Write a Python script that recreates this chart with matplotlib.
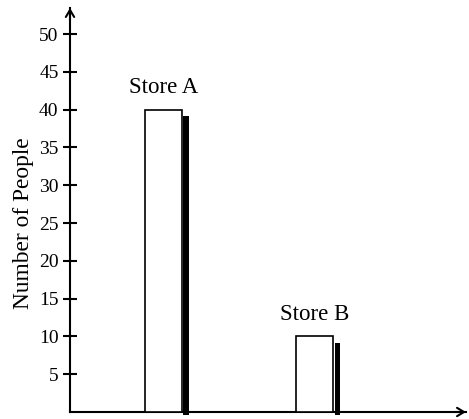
import matplotlib
matplotlib.use("Agg")
import matplotlib.pyplot as plt
import numpy as np

categories = ["Store A", "Store B"]
values = [40, 10]
shadow_values = [39.15, 9.1]
yticks = [5, 10, 15, 20, 25, 30, 35, 40, 45, 50]
ylabel = "Number of People"

plt.rcParams['font.family'] = ['Liberation Serif', 'DejaVu Serif']

W, H = 469, 419
fig = plt.figure(figsize=(W / 100, H / 100), dpi=100)
x0, x1 = 70, 466
y0, y1 = 412, 8
ax = fig.add_axes([x0 / W, (H - y0) / H, (x1 - x0) / W, (y0 - y1) / H])

px_per_unit = 7.56
ax.set_ylim(0, (y0 - y1) / px_per_unit)
ax.set_xlim(-0.617, 2.0)

pos = np.arange(len(categories))
bw = 0.241
ax.bar(pos, values, width=bw, facecolor='white', edgecolor='black',
       linewidth=1.2, zorder=3)
sw = 0.037
gap = 0.011
bottom = -0.4
ax.bar(pos + bw / 2 + gap + sw / 2, np.array(shadow_values) - bottom,
       bottom=bottom, width=sw, color='black', linewidth=0, zorder=3,
       clip_on=False)

for p, v, c in zip(pos, values, categories):
    ax.text(p, v + 2.2, c, ha='center', va='baseline', fontsize=16.5)

for s in ['top', 'right']:
    ax.spines[s].set_visible(False)
for s in ['left', 'bottom']:
    ax.spines[s].set_linewidth(1.5)

ax.set_xticks([])
ax.set_yticks(yticks)
ax.set_yticklabels([str(t) for t in yticks], fontsize=14)
ax.tick_params(axis='y', direction='inout', length=9.5, width=1.5, pad=3.5)

# arrow heads
ax.annotate('', xy=(0, 1.0), xytext=(0, 0.97), xycoords='axes fraction',
            arrowprops=dict(arrowstyle='->,head_length=0.5,head_width=0.3',
                            lw=1.5, color='black', shrinkA=0, shrinkB=0))
ax.annotate('', xy=(1.0, 0), xytext=(0.97, 0), xycoords='axes fraction',
            arrowprops=dict(arrowstyle='->,head_length=0.5,head_width=0.3',
                            lw=1.5, color='black', shrinkA=0, shrinkB=0))

fig.text(24 / W, 1 - 223 / H, ylabel, rotation=90, ha='center', va='center',
         fontsize=16.8)

fig.savefig("out.png", dpi=100)
